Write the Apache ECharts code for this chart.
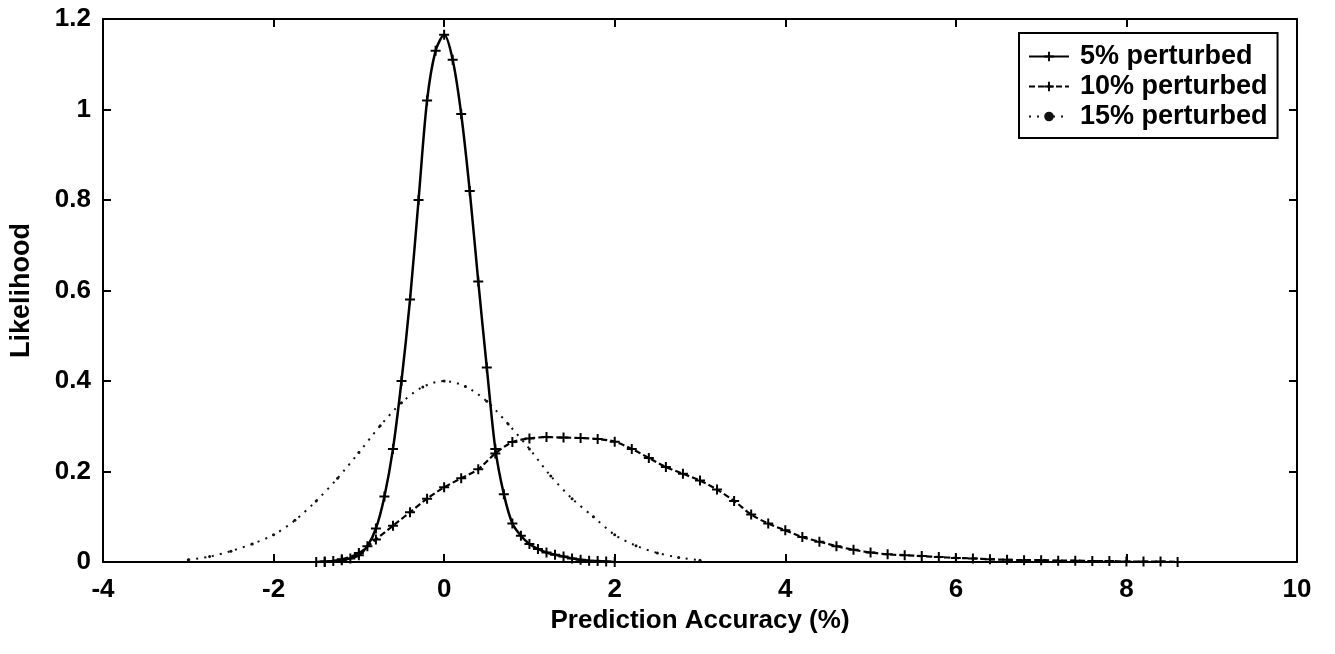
<!DOCTYPE html>
<html>
<head>
<meta charset="utf-8">
<script src="https://cdn.jsdelivr.net/npm/echarts@6/dist/echarts.min.js"></script>
<style>
html,body{margin:0;padding:0;background:#fff;}
#chart{width:1335px;height:654px;}
</style>
</head>
<body>
<div id="chart"></div>
<script>
// ---- data ----
const seriesNames = ['5% perturbed', '10% perturbed', '15% perturbed'];
const xTicks = [-4, -2, 0, 2, 4, 6, 8, 10];
const yTicks = [0, 0.2, 0.4, 0.6, 0.8, 1, 1.2];

const x5 = [-1.5,-1.4,-1.3,-1.2,-1.1,-1.0,-0.9,-0.8,-0.7,-0.6,-0.5,-0.4,-0.3,-0.2,-0.1,0,
            0.1,0.2,0.3,0.4,0.5,0.6,0.7,0.8,0.9,1.0,1.1,1.2,1.3,1.4,1.5,1.6,1.7,1.8,1.9,2.0];
const y5 = [0,0.001,0.002,0.004,0.008,0.015,0.035,0.074,0.145,0.25,0.40,0.58,0.80,1.02,1.13,1.165,
            1.11,0.99,0.82,0.62,0.43,0.25,0.15,0.085,0.058,0.04,0.029,0.021,0.016,0.012,0.008,0.005,0.003,0.002,0.001,0];

const x10 = [-1.4,-1.2,-1.0,-0.8,-0.6,-0.4,-0.2,0,0.2,0.4,0.6,0.8,1.0,1.2,1.4,1.6,1.8,2.0,2.2,2.4,2.6,2.8,3.0,
             3.2,3.4,3.6,3.8,4.0,4.2,4.4,4.6,4.8,5.0,5.2,5.4,5.6,5.8,6.0,6.2,6.4,6.6,6.8,7.0,7.2,7.4,7.6,7.8,8.0,8.2,8.4,8.6];
const y10 = [0,0.006,0.02,0.05,0.08,0.11,0.14,0.165,0.185,0.205,0.24,0.265,0.273,0.276,0.275,0.274,0.272,0.266,0.25,0.23,0.21,0.195,0.18,
             0.16,0.135,0.105,0.085,0.07,0.055,0.045,0.035,0.027,0.021,0.017,0.015,0.013,0.011,0.009,0.008,0.006,0.005,0.004,0.004,0.003,0.003,0.002,0.002,0.001,0.001,0.001,0];

const x15 = [-3.0,-2.75,-2.5,-2.25,-2.0,-1.75,-1.5,-1.25,-1.0,-0.75,-0.5,-0.25,0,0.25,0.5,0.75,1.0,1.25,1.5,1.75,2.0,2.25,2.5,2.75,3.0];
const y15 = [0.005,0.012,0.024,0.04,0.06,0.092,0.135,0.185,0.242,0.301,0.352,0.387,0.40,0.388,0.355,0.305,0.25,0.19,0.14,0.1,0.06,0.036,0.02,0.01,0.004];

// ---- build ----
const pair = (xs, ys) => xs.map((x, i) => [x, ys[i]]);
const plus = 'path://M4,0H6V4H10V6H6V10H4V6H0V4H4Z';
const FONT = '"Liberation Sans", Arial, sans-serif';
const tickFont = {color: '#000', fontSize: 26, fontWeight: 'bold', fontFamily: FONT};
const nameFont = {color: '#000', fontSize: 26, fontWeight: 'bold', fontFamily: FONT};

const chart = echarts.init(document.getElementById('chart'), null, {renderer: 'canvas'});
const axisLine = {show: true, onZero: false, lineStyle: {color: '#000', width: 2}};
const tickIn = {show: true, inside: true, length: 8, lineStyle: {color: '#000', width: 2}};

chart.setOption({
  animation: false,
  backgroundColor: '#fff',
  grid: {left: 101, right: 38, top: 19, bottom: 92},
  legend: {
    data: seriesNames,
    orient: 'vertical',
    left: 1019, top: 33,
    itemWidth: 40, itemHeight: 12, itemGap: 3,
    padding: [10, 10, 8, 9],
    borderColor: '#000', borderWidth: 2,
    backgroundColor: '#fff',
    textStyle: {color: '#000', fontSize: 27, fontWeight: 'bold', fontFamily: FONT, padding: [0, 0, 0, 6]}
  },
  xAxis: [{
    type: 'value', min: xTicks[0], max: xTicks[xTicks.length - 1], interval: 2,
    name: 'Prediction Accuracy (%)', nameLocation: 'middle', nameGap: 46,
    nameTextStyle: nameFont,
    axisLine: axisLine, axisTick: tickIn,
    axisLabel: Object.assign({margin: 15}, tickFont),
    splitLine: {show: false}
  }, {
    type: 'value', position: 'top', min: xTicks[0], max: xTicks[xTicks.length - 1], interval: 2,
    axisLine: axisLine, axisTick: tickIn, axisLabel: {show: false}, splitLine: {show: false}
  }],
  yAxis: [{
    type: 'value', min: yTicks[0], max: yTicks[yTicks.length - 1], interval: 0.2,
    name: 'Likelihood', nameLocation: 'middle', nameGap: 68, nameRotate: 90,
    nameTextStyle: Object.assign({}, nameFont, {fontSize: 27}),
    axisLine: axisLine, axisTick: tickIn,
    axisLabel: Object.assign({margin: 12}, tickFont),
    splitLine: {show: false}
  }, {
    type: 'value', position: 'right', min: yTicks[0], max: yTicks[yTicks.length - 1], interval: 0.2,
    axisLine: axisLine, axisTick: tickIn, axisLabel: {show: false}, splitLine: {show: false}
  }],
  series: [{
    name: seriesNames[0], type: 'line', smooth: 0.3,
    data: pair(x5, y5),
    symbol: plus, symbolSize: 10,
    lineStyle: {color: '#000', width: 2.5, type: 'solid'},
    itemStyle: {color: '#000'},
    z: 4
  }, {
    name: seriesNames[1], type: 'line', smooth: 0.3,
    data: pair(x10, y10),
    symbol: plus, symbolSize: 10,
    lineStyle: {color: '#000', width: 2.2, type: [6, 3]},
    itemStyle: {color: '#000'},
    z: 3
  }, {
    name: seriesNames[2], type: 'line', smooth: 0.3,
    data: pair(x15, y15),
    symbol: 'circle', symbolSize: 3,
    lineStyle: {color: '#111', width: 2, type: [2, 6]},
    itemStyle: {color: '#111'},
    z: 2
  }]
});
</script>
</body>
</html>
